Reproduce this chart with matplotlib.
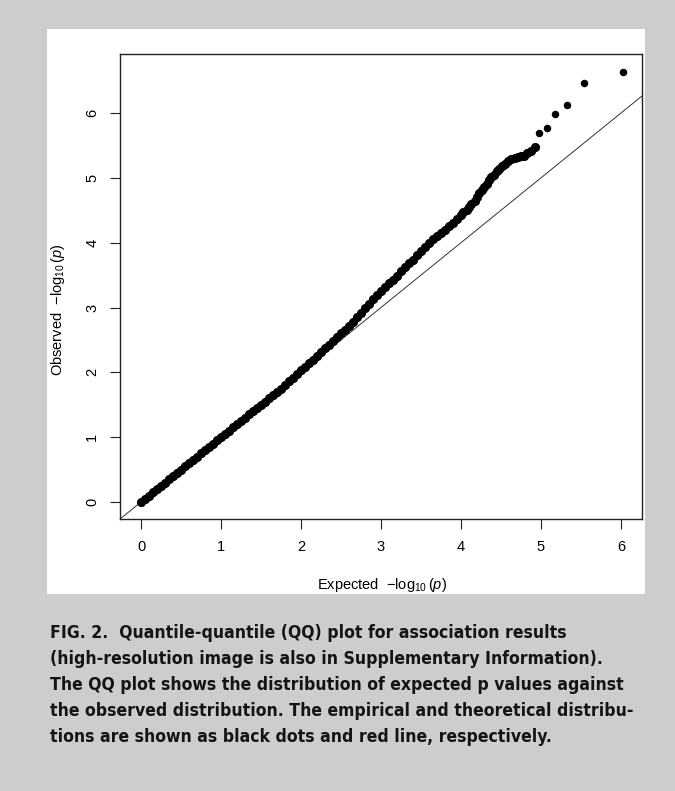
import numpy as np
import matplotlib
matplotlib.use("Agg")
import matplotlib.pyplot as plt
from matplotlib.patches import Rectangle

plt.rcParams["font.family"] = ["Liberation Sans", "DejaVu Sans"]
plt.rcParams["mathtext.fontset"] = "custom"
plt.rcParams["mathtext.rm"] = "Liberation Sans"
plt.rcParams["mathtext.it"] = "Liberation Sans:italic"

# expected vs observed -log10(p)
# dense part of the cloud (overlapping dots)
expected = [0.00, 0.05, 0.10, 0.15, 0.20, 0.25, 0.30, 0.35, 0.40, 0.45,
            0.50, 0.55, 0.60, 0.65, 0.70, 0.75, 0.80, 0.85, 0.90, 0.95,
            1.00, 1.05, 1.10, 1.15, 1.20, 1.25, 1.30, 1.35, 1.40, 1.45,
            1.50, 1.55, 1.60, 1.65, 1.70, 1.75, 1.80, 1.85, 1.90, 1.95,
            2.00, 2.05, 2.10, 2.15, 2.20, 2.25, 2.30, 2.35, 2.40, 2.45,
            2.50, 2.55, 2.60, 2.65, 2.70, 2.75, 2.80, 2.85, 2.90, 2.95,
            3.00, 3.05, 3.10, 3.15, 3.20, 3.25, 3.30, 3.35, 3.40, 3.45,
            3.50, 3.55, 3.60, 3.65, 3.70, 3.75, 3.80, 3.85, 3.90, 3.95,
            4.00, 4.03, 4.07, 4.10, 4.13, 4.17, 4.20, 4.23, 4.26, 4.29,
            4.32, 4.35, 4.38, 4.41, 4.45, 4.48, 4.51, 4.55, 4.59, 4.63,
            4.67, 4.71, 4.75, 4.79, 4.83, 4.87, 4.92]
observed = [0.00, 0.05, 0.10, 0.15, 0.20, 0.25, 0.30, 0.35, 0.40, 0.45,
            0.50, 0.55, 0.60, 0.65, 0.70, 0.75, 0.80, 0.85, 0.90, 0.95,
            1.00, 1.05, 1.10, 1.15, 1.20, 1.25, 1.30, 1.35, 1.40, 1.45,
            1.50, 1.55, 1.60, 1.65, 1.70, 1.75, 1.81, 1.86, 1.91, 1.97,
            2.03, 2.08, 2.14, 2.19, 2.25, 2.31, 2.37, 2.42, 2.48, 2.54,
            2.60, 2.66, 2.72, 2.78, 2.85, 2.92, 2.99, 3.06, 3.13, 3.20,
            3.26, 3.32, 3.38, 3.43, 3.49, 3.56, 3.62, 3.68, 3.74, 3.81,
            3.87, 3.93, 3.99, 4.05, 4.10, 4.15, 4.20, 4.25, 4.30, 4.37,
            4.43, 4.47, 4.51, 4.55, 4.59, 4.64, 4.70, 4.76, 4.81, 4.86,
            4.91, 4.96, 5.01, 5.05, 5.10, 5.14, 5.18, 5.22, 5.26, 5.29,
            5.31, 5.32, 5.33, 5.34, 5.38, 5.42, 5.47]
# isolated top hits
tail_expected = [4.98, 5.07, 5.18, 5.33, 5.54, 6.02]
tail_observed = [5.69, 5.77, 5.98, 6.13, 6.46, 6.64]

ticks = [0, 1, 2, 3, 4, 5, 6]

caption = ["FIG. 2.  Quantile-quantile (QQ) plot for association results",
           "(high-resolution image is also in Supplementary Information).",
           "The QQ plot shows the distribution of expected p values against",
           "the observed distribution. The empirical and theoretical distribu-",
           "tions are shown as black dots and red line, respectively."]

W, H = 675, 791
fig = plt.figure(figsize=(W / 100, H / 100), dpi=100)
fig.patch.set_facecolor("#cdcdcd")

# white panel behind the plot
fig.patches.append(Rectangle((47 / W, 1 - 594 / H), 598 / W, 565 / H,
                             transform=fig.transFigure, facecolor="white",
                             edgecolor="none", zorder=-5))

ax = fig.add_axes([120 / W, 1 - 519 / H, 522 / W, 465 / H])
ax.set_zorder(2)
ax.set_facecolor("white")
ax.axline((0, 0), slope=1, color="#333333", lw=0.7, zorder=1)
ax.plot(expected, observed, "o", color="black", ms=6.6, mew=0, zorder=2)
ax.plot(tail_expected, tail_observed, "o", color="black", ms=5.4, mew=0, zorder=2)

ax.set_xlim(-0.2625, 6.2625)
ax.set_ylim(-0.262, 6.91)
ax.set_xticks(ticks)
ax.set_yticks(ticks)
ax.tick_params(direction="out", length=7, width=0.8, labelsize=10.5, color="#222222")
ax.tick_params(axis="x", pad=8)
ax.tick_params(axis="y", pad=8)
for lab in ax.get_yticklabels():
    lab.set_rotation(90)
    lab.set_va("center")
for s in ax.spines.values():
    s.set_linewidth(1.0)
    s.set_color("#222222")

fig.text(382 / W, 1 - 585 / H, r"Expected  $-\log_{10}(p)$", ha="center",
         va="center", fontsize=10.5)
fig.text(58 / W, 1 - 310 / H, r"Observed  $-\log_{10}(p)$", ha="center",
         va="center", fontsize=10.5, rotation=90)

for i, line in enumerate(caption):
    fig.text(50 / W, 1 - (633 + 26 * i) / H, line, ha="left", va="center",
             fontsize=12.6, fontweight="bold", fontstretch="condensed",
             color="#141414", family=["DejaVu Sans"])

fig.savefig("out.png", dpi=100, facecolor=fig.get_facecolor())
